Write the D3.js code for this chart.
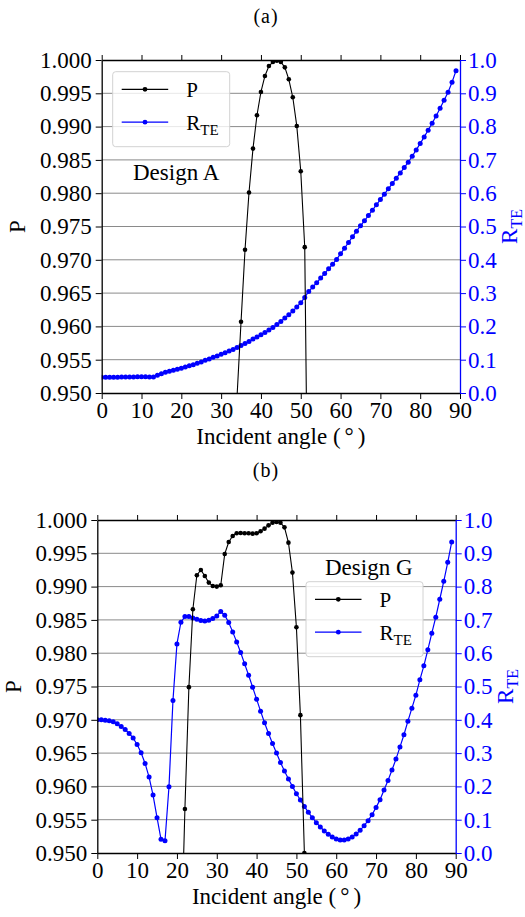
<!DOCTYPE html>
<html>
<head>
<meta charset="utf-8">
<script src="https://cdn.jsdelivr.net/npm/d3@7"></script>
<style>
  html, body { margin: 0; padding: 0; background: #fff; }
  svg { display: block; }
  svg text { font-family: "Liberation Serif", "Times New Roman", serif; }
</style>
</head>
<body>
<svg id="fig" width="525" height="917"></svg>
<script>
// ---- data -------------------------------------------------------------
// incident angles (degrees) for the reflectance series
const anglesR = [0,1,2,3,4,5,6,7,8,9,10,11,12,13,14,15,16,17,18,19,
  20,21,22,23,24,25,26,27,28,29,30,31,32,33,34,35,36,37,38,39,
  40,41,42,43,44,45,46,47,48,49,50,51,52,53,54,55,56,57,58,59,
  60,61,62,63,64,65,66,67,68,69,70,71,72,73,74,75,76,77,78,79,
  80,81,82,83,84,85,86,87,88,89];

// Design A: TE reflectance
const rteA = [0.047,0.047,0.047,0.047,0.047,0.048,0.048,0.048,0.048,0.049,
  0.049,0.049,0.048,0.048,0.053,0.058,0.062,0.065,0.068,0.071,
  0.074,0.078,0.082,0.085,0.089,0.093,0.098,0.102,0.107,0.111,
  0.116,0.121,0.126,0.131,0.137,0.143,0.149,0.155,0.162,0.168,
  0.175,0.182,0.189,0.197,0.206,0.215,0.225,0.235,0.246,0.258,
  0.271,0.287,0.305,0.318,0.331,0.345,0.359,0.373,0.387,0.401,
  0.418,0.435,0.452,0.469,0.486,0.502,0.517,0.533,0.549,0.565,
  0.581,0.597,0.613,0.629,0.645,0.661,0.677,0.693,0.711,0.730,
  0.749,0.769,0.789,0.810,0.832,0.855,0.879,0.903,0.933,0.968];

// Design A: polarization degree
const anglesPA = [34,35,36,37,38,39,40,41,42,43,44,45,46,47,48,49,50,51,52];
const pA = [0.9495,0.9607,0.9715,0.9801,0.9867,0.9917,0.9952,0.9976,0.9991,0.9997,
  0.9999,0.9997,0.9989,0.9971,0.9944,0.9901,0.9833,0.9719,0.9170];

// Design G: TE reflectance
const rteG = [0.400,0.400,0.399,0.397,0.394,0.388,0.380,0.371,0.359,0.345,
  0.326,0.301,0.269,0.228,0.174,0.106,0.041,0.037,0.199,0.458,
  0.628,0.693,0.710,0.710,0.706,0.702,0.698,0.697,0.699,0.704,
  0.712,0.725,0.714,0.692,0.664,0.634,0.602,0.568,0.534,0.498,
  0.462,0.426,0.391,0.359,0.329,0.300,0.272,0.246,0.222,0.200,
  0.178,0.159,0.140,0.122,0.106,0.091,0.078,0.066,0.056,0.048,
  0.042,0.039,0.039,0.042,0.048,0.057,0.068,0.082,0.097,0.115,
  0.137,0.160,0.189,0.218,0.249,0.282,0.318,0.355,0.396,0.435,
  0.474,0.520,0.562,0.610,0.660,0.708,0.762,0.816,0.873,0.934];

// Design G: polarization degree
const anglesPG = [21,22,23,24,25,26,27,28,29,30,31,32,33,34,35,36,
  37,38,39,40,41,42,43,44,45,46,47,48,49,50,51,52];
const pG = [0.9347,0.9566,0.9749,0.9866,0.9917,0.9925,0.9916,0.9906,0.9901,0.9900,0.9902,
  0.9949,0.9967,0.9976,0.9980,0.99805,0.9980,0.9980,0.99795,0.9980,0.9983,
  0.9987,0.9992,0.9996,0.9997,0.9996,0.9989,0.9966,0.9921,0.9839,0.9707,0.9500];

// axis ticks
const xTicks = [0,10,20,30,40,50,60,70,80,90];
const pTicks = [0.950,0.955,0.960,0.965,0.970,0.975,0.980,0.985,0.990,0.995,1.000];
const rTicks = [0.0,0.1,0.2,0.3,0.4,0.5,0.6,0.7,0.8,0.9,1.0];

// ---- drawing ----------------------------------------------------------
const BLUE = "#0000ff";
const SERIF = '"Liberation Serif", "Times New Roman", serif';
const TICK_FONT = 23;
const svg = d3.select("#fig");
const defs = svg.append("defs");

function styleAxis(sel, color) {
  sel.attr("font-family", SERIF).attr("font-size", TICK_FONT);
  sel.selectAll(".tick text").attr("fill", color)
    .style("font-family", SERIF).style("font-size", TICK_FONT + "px");
  sel.selectAll(".tick line").attr("stroke", color).attr("stroke-width", 1);
  sel.select(".domain").attr("stroke", color).attr("stroke-width", 1.3);
}

function label(parent, size) {
  return parent.append("text")
    .style("font-family", SERIF)
    .style("font-size", size + "px");
}

function drawPanel(o) {
  const g = svg.append("g");
  const x = d3.scaleLinear().domain([0, 90]).range([o.left, o.right]);
  const yP = d3.scaleLinear().domain([0.95, 1.0]).range([o.bottom, o.top]);
  const yR = d3.scaleLinear().domain([0, 1]).range([o.bottom, o.top]);

  defs.append("clipPath").attr("id", "clip-" + o.id)
    .append("rect")
    .attr("x", o.left).attr("y", o.top)
    .attr("width", o.right - o.left).attr("height", o.bottom - o.top);

  // horizontal grid from the left axis ticks
  g.append("g").selectAll("line")
    .data(pTicks.slice(1, -1))
    .join("line")
    .attr("x1", o.left).attr("x2", o.right)
    .attr("y1", d => yP(d)).attr("y2", d => yP(d))
    .attr("stroke", "#8a8a8a").attr("stroke-width", 1);

  const plot = g.append("g").attr("clip-path", `url(#clip-${o.id})`);

  // TE reflectance (right axis)
  const rPts = anglesR.map((a, i) => [a, o.rte[i]]);
  plot.append("path")
    .datum(rPts)
    .attr("fill", "none").attr("stroke", BLUE).attr("stroke-width", 1.2)
    .attr("d", d3.line().x(d => x(d[0])).y(d => yR(d[1])));
  plot.append("g").selectAll("circle")
    .data(rPts).join("circle")
    .attr("cx", d => x(d[0])).attr("cy", d => yR(d[1]))
    .attr("r", 2.5).attr("fill", BLUE);

  // polarization degree (left axis)
  const pPts = o.anglesP.map((a, i) => [a, o.p[i]]);
  plot.append("path")
    .datum(pPts)
    .attr("fill", "none").attr("stroke", "#000").attr("stroke-width", 1.1)
    .attr("d", d3.line().x(d => x(d[0])).y(d => yP(d[1])));
  plot.append("g").selectAll("circle")
    .data(pPts).join("circle")
    .attr("cx", d => x(d[0])).attr("cy", d => yP(d[1]))
    .attr("r", 2.3).attr("fill", "#000");

  // axes
  const ax = g.append("g").attr("transform", `translate(0,${o.bottom})`)
    .call(d3.axisBottom(x).tickValues(xTicks).tickFormat(d3.format("d"))
      .tickSize(6).tickSizeOuter(0).tickPadding(2.5));
  styleAxis(ax, "#000");

  const axTop = g.append("g").attr("transform", `translate(0,${o.top})`)
    .call(d3.axisTop(x).tickValues(xTicks).tickFormat("")
      .tickSize(5).tickSizeOuter(0));
  styleAxis(axTop, "#000");

  const ayL = g.append("g").attr("transform", `translate(${o.left},0)`)
    .call(d3.axisLeft(yP).tickValues(pTicks).tickFormat(d3.format(".3f"))
      .tickSize(6).tickSizeOuter(0).tickPadding(4));
  styleAxis(ayL, "#000");

  const ayR = g.append("g").attr("transform", `translate(${o.right},0)`)
    .call(d3.axisRight(yR).tickValues(rTicks).tickFormat(d3.format(".1f"))
      .tickSize(6).tickSizeOuter(0).tickPadding(2));
  styleAxis(ayR, BLUE);

  const midY = (o.top + o.bottom) / 2;
  const midX = (o.left + o.right) / 2;

  // axis titles
  label(g, 23)
    .attr("transform", `translate(${o.pLabelX},${midY}) rotate(-90)`)
    .attr("text-anchor", "middle").attr("fill", "#000")
    .text("P");

  const rl = label(g, 23)
    .attr("transform", `translate(${o.rLabelX},${midY}) rotate(-90)`)
    .attr("text-anchor", "middle").attr("fill", BLUE);
  rl.append("tspan").text("R");
  rl.append("tspan").attr("dy", 5).style("font-size", "16px").text("TE");

  const xl = label(g, 23)
    .attr("x", midX).attr("y", o.xLabelY)
    .attr("text-anchor", "middle").attr("fill", "#000");
  xl.append("tspan").text("Incident angle (");
  xl.append("tspan").attr("dx", 4).text("°");
  xl.append("tspan").attr("dx", 4).text(")");

  // panel title
  label(g, 20)
    .attr("x", 266).attr("y", o.titleY)
    .attr("text-anchor", "middle")
    .style("letter-spacing", "1px")
    .attr("fill", "#000")
    .text(o.title);

  // design annotation
  label(g, 23)
    .attr("x", o.designX).attr("y", o.designY)
    .attr("fill", "#000")
    .text(o.design);

  // legend
  const lg = g.append("g").attr("transform", `translate(${o.legendX},${o.legendY})`);
  lg.append("rect")
    .attr("width", 117).attr("height", 75).attr("rx", 3)
    .attr("fill", "#fff").attr("fill-opacity", 0.8)
    .attr("stroke", "#d2d2d2").attr("stroke-width", 1);
  const rows = [
    { color: "#000", y: 17.6, main: "P", sub: null },
    { color: BLUE, y: 50.5, main: "R", sub: "TE" }
  ];
  rows.forEach(r => {
    lg.append("line")
      .attr("x1", 9).attr("x2", 55.5).attr("y1", r.y).attr("y2", r.y)
      .attr("stroke", r.color).attr("stroke-width", 1.3);
    lg.append("circle").attr("cx", 32.3).attr("cy", r.y).attr("r", 2.4).attr("fill", r.color);
    const t = label(lg, 21).attr("x", 73.5).attr("y", r.y + 7.5).attr("fill", "#000");
    t.append("tspan").text(r.main);
    if (r.sub) t.append("tspan").attr("dy", 5).style("font-size", "15px").text(r.sub);
  });
}

drawPanel({
  id: "a", title: "(a)", titleY: 23,
  left: 101.7, right: 460, top: 60, bottom: 393,
  rte: rteA, anglesP: anglesPA, p: pA,
  pLabelX: 25, rLabelX: 517, xLabelY: 444,
  legendX: 112.7, legendY: 71.7,
  design: "Design A", designX: 133, designY: 180
});

drawPanel({
  id: "b", title: "(b)", titleY: 477,
  left: 97.3, right: 455.7, top: 520, bottom: 853,
  rte: rteG, anglesP: anglesPG, p: pG,
  pLabelX: 20.6, rLabelX: 512.6, xLabelY: 904,
  legendX: 306, legendY: 581.7,
  design: "Design G", designX: 325, designY: 575
});
</script>
</body>
</html>
